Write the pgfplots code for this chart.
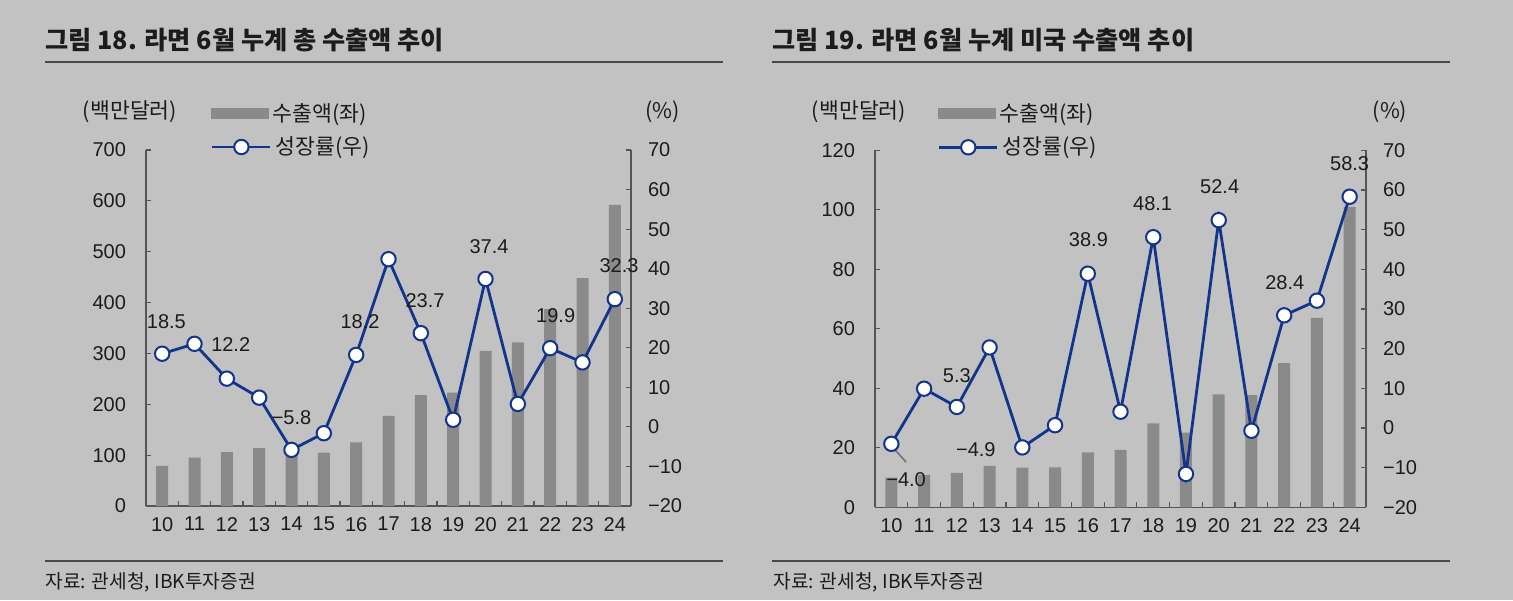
\documentclass[border=0pt]{standalone}
\usepackage{pgfplots}
\pgfplotsset{compat=1.18}
\usepackage{fontspec}
\setmainfont{Liberation Sans}
\newfontfamily\kr{Noto Sans CJK KR}
\definecolor{bg}{RGB}{194,194,194}
\definecolor{barc}{RGB}{138,138,138}
\definecolor{linec}{RGB}{18,52,140}
\definecolor{axc}{RGB}{85,85,85}
\definecolor{txt}{RGB}{28,28,28}
\tikzset{lab/.style={font=\fontsize{10}{12}\selectfont, text=txt, inner sep=0pt}}
\pgfplotsset{
  base/.style={scale only axis, xmin=9.5, xmax=24.5, clip=false,
    axis line style={axc, line width=0.6pt},
    tick style={axc, line width=0.6pt},
    tick align=inside, major tick length=2.5pt, minor tick length=2.5pt,
    ticklabel style={font=\fontsize{10}{12}\selectfont, text=txt},
    /pgf/number format/assume math mode=true,
  },
  barax/.style={base, axis x line*=bottom, axis y line*=left,
    xtick={10,...,24}, minor xtick={9.5,10.5,...,24.5},
    major x tick style={draw=none},
    xticklabel style={yshift=-2pt},
    yticklabel style={xshift=-6.5pt},
    legend style={at={(0.134,1.1025)}, anchor=west, draw=none, fill=none,
      inner sep=0pt, outer sep=0pt, font=\kr\fontsize{10.8}{12}\selectfont, text=txt},
  },
  lineax/.style={base, axis y line*=right, axis x line=none,
    ymin=-20, ymax=70, ytick={-20,-10,...,70},
    yticklabels={−20,−10,0,10,20,30,40,50,60,70},
    yticklabel style={xshift=5pt},
    legend style={at={(0.134,1.0084)}, anchor=west, draw=none, fill=none,
      inner sep=0pt, outer sep=0pt, font=\kr\fontsize{10.8}{12}\selectfont, text=txt},
  },
  barplot/.style={ybar, bar width=6pt, fill=barc, draw=none,
    legend image code/.code={\fill[barc] (0pt,-2.75pt) rectangle (29pt,2.75pt);}},
  lineplot/.style={linec, line width=1.4pt, mark=*, mark size=3.6pt,
    mark options={fill=white, draw=linec, line width=1pt},
    legend image code/.code={\draw[mark repeat=2,mark phase=2,##1] plot coordinates {(0pt,0pt) (14.5pt,0pt) (29pt,0pt)};}},
}
\begin{document}
\begin{tikzpicture}
\fill[bg] (0,0) rectangle (756.5pt,300pt);
\path[use as bounding box] (0,0) rectangle (756.5pt,300pt);
% ---------- left panel ----------
\node[anchor=west, font=\kr\bfseries\fontsize{12.6}{14}\selectfont, text=txt, inner sep=0pt] at (22.5pt,280pt) {그림 18. 라면 6월 누계 총 수출액 추이};
\draw[txt!80, line width=1pt] (22.5pt,269pt) -- (361.5pt,269pt);
\draw[txt!80, line width=1pt] (22.5pt,19.5pt) -- (361.5pt,19.5pt);
\node[anchor=west, font=\kr\fontsize{9.6}{11}\selectfont, text=txt, inner sep=0pt] at (22.5pt,9pt) {자료: 관세청, IBK투자증권};
\node[font=\kr\fontsize{10.8}{12}\selectfont, text=txt] at (65pt,244pt) {(백만달러)};
\node[font=\kr\fontsize{10.8}{12}\selectfont, text=txt] at (331.25pt,244pt) {(\%)};
\begin{axis}[barax, at={(73pt,47pt)}, anchor=south west, width=242.5pt, height=178pt,
  ymin=0, ymax=700, ytick={0,100,...,700}]
\addplot[barplot] coordinates {(10,79) (11,95) (12,106) (13,114) (14,108) (15,105) (16,125) (17,177) (18,218) (19,223) (20,305) (21,322) (22,387) (23,448) (24,592)};
\addlegendentry{수출액(좌)}
\end{axis}
\begin{axis}[lineax, at={(73pt,47pt)}, anchor=south west, width=242.5pt, height=178pt]
\addplot[lineplot] coordinates {(10,18.5) (11,21.0) (12,12.2) (13,7.4) (14,-5.8) (15,-1.6) (16,18.2) (17,42.4) (18,23.7) (19,1.8) (20,37.4) (21,5.8) (22,19.9) (23,16.3) (24,32.3)};
\addlegendentry{성장률(우)}
\node[lab] at (axis cs:10.13,26.6) {18.5};
\node[lab] at (axis cs:12.12,20.7) {12.2};
\node[lab] at (axis cs:14.0,2.4) {−5.8};
\node[lab] at (axis cs:16.12,26.6) {18.2};
\node[lab] at (axis cs:18.13,31.8) {23.7};
\node[lab] at (axis cs:20.11,45.7) {37.4};
\node[lab] at (axis cs:22.17,28.1) {19.9};
\node[lab] at (axis cs:24.13,40.7) {32.3};
\end{axis}
% ---------- right panel ----------
\node[anchor=west, font=\kr\bfseries\fontsize{12.6}{14}\selectfont, text=txt, inner sep=0pt] at (386pt,280pt) {그림 19. 라면 6월 누계 미국 수출액 추이};
\draw[txt!80, line width=1pt] (386pt,269pt) -- (725pt,269pt);
\draw[txt!80, line width=1pt] (386pt,19.5pt) -- (725pt,19.5pt);
\node[anchor=west, font=\kr\fontsize{9.6}{11}\selectfont, text=txt, inner sep=0pt] at (386.5pt,9pt) {자료: 관세청, IBK투자증권};
\node[font=\kr\fontsize{10.8}{12}\selectfont, text=txt] at (429.5pt,244pt) {(백만달러)};
\node[font=\kr\fontsize{10.8}{12}\selectfont, text=txt] at (695pt,244pt) {(\%)};
\begin{axis}[barax, at={(437.5pt,46.35pt)}, anchor=south west, width=245.5pt, height=178.5pt,
  ymin=0, ymax=120, ytick={0,20,...,120}, legend style={at={(0.128,1.1025)}}]
\addplot[barplot] coordinates {(10,10.0) (11,10.9) (12,11.6) (13,13.9) (14,13.3) (15,13.4) (16,18.5) (17,19.3) (18,28.2) (19,25.1) (20,38.0) (21,37.7) (22,48.5) (23,63.7) (24,101.0)};
\addlegendentry{수출액(좌)}
\end{axis}
\begin{axis}[lineax, at={(437.5pt,46.35pt)}, anchor=south west, width=245.5pt, height=178.5pt,
  legend style={at={(0.128,1.0084)}}]
\draw[black!55, line width=0.8pt] (axis cs:10.12,-5.6) -- (axis cs:10.45,-8.6);
\addplot[lineplot] coordinates {(10,-4.0) (11,9.9) (12,5.3) (13,20.3) (14,-4.9) (15,0.7) (16,38.9) (17,4.1) (18,48.1) (19,-11.6) (20,52.4) (21,-0.7) (22,28.4) (23,32.1) (24,58.3)};
\addlegendentry{성장률(우)}
\node[lab] at (axis cs:10.45,-12.9) {−4.0};
\node[lab] at (axis cs:12.0,13.3) {5.3};
\node[lab] at (axis cs:12.58,-5.4) {−4.9};
\node[lab] at (axis cs:16.02,47.5) {38.9};
\node[lab] at (axis cs:17.98,56.6) {48.1};
\node[lab] at (axis cs:20.03,60.9) {52.4};
\node[lab] at (axis cs:22.02,36.6) {28.4};
\node[lab] at (axis cs:24.0,66.7) {58.3};
\end{axis}
\end{tikzpicture}
\end{document}
